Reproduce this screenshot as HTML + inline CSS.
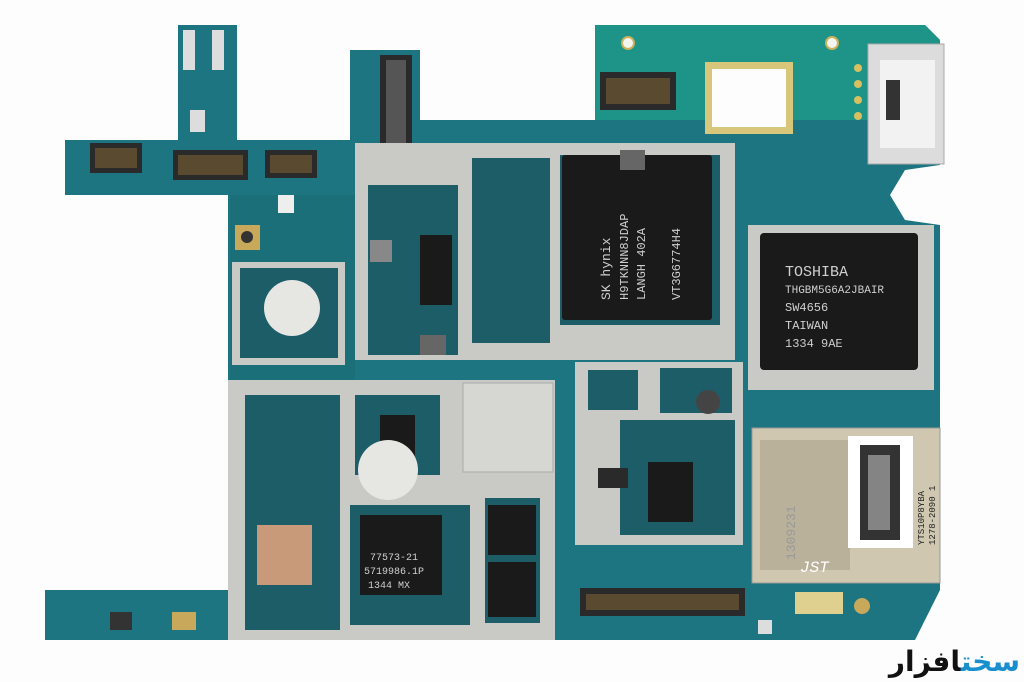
<!DOCTYPE html>
<html><head><meta charset="utf-8"><style>
html,body{margin:0;padding:0;background:#fff;width:1024px;height:682px;overflow:hidden;position:relative}
svg{display:block}
text{font-family:"Liberation Mono",monospace}
.logo{position:absolute;right:4px;top:644px;font:bold 28px "DejaVu Sans",sans-serif;line-height:36px;direction:rtl;white-space:nowrap}
</style></head><body>
<svg width="1024" height="682" viewBox="0 0 1024 682" xmlns="http://www.w3.org/2000/svg">
<rect width="1024" height="682" fill="#fdfdfd"/>
<polygon fill="#1c7580" points="178,25 237,25 237,140 350,140 350,50 420,50 420,120 595,120 595,25 925,25 940,40 940,165 905,170 890,195 905,220 940,225 940,590 915,640 45,640 45,590 228,590 228,195 65,195 65,140 178,140"/>
<polygon fill="#1e9488" points="595,25 925,25 940,40 940,120 595,120"/>
<rect x="230" y="195" width="125" height="390" fill="#1b6f78"/>
<circle cx="628" cy="43" r="6" fill="#f4f4f0" stroke="#c9b25a" stroke-width="2"/>
<circle cx="832" cy="43" r="6" fill="#f4f4f0" stroke="#c9b25a" stroke-width="2"/>
<rect x="705" y="62" width="88" height="72" fill="#d8c67a"/>
<rect x="712" y="69" width="74" height="58" fill="#fdfdfd"/>
<rect x="868" y="44" width="76" height="120" fill="#dcdcdc" stroke="#aaa"/>
<rect x="880" y="60" width="55" height="88" fill="#f2f2f2"/>
<rect x="886" y="80" width="14" height="40" fill="#333"/>
<circle cx="858" cy="68" r="4" fill="#d8c060"/><circle cx="858" cy="84" r="4" fill="#d8c060"/><circle cx="858" cy="100" r="4" fill="#d8c060"/><circle cx="858" cy="116" r="4" fill="#d8c060"/>
<rect x="380" y="55" width="32" height="105" fill="#2a2a2a"/><rect x="386" y="60" width="20" height="95" fill="#555"/>
<rect x="600" y="72" width="76" height="38" fill="#2a2a2a"/><rect x="606" y="78" width="64" height="26" fill="#5a4a30"/>
<rect x="90" y="143" width="52" height="30" fill="#2a2a2a"/><rect x="95" y="148" width="42" height="20" fill="#5a4a30"/>
<rect x="173" y="150" width="75" height="30" fill="#2a2a2a"/><rect x="178" y="155" width="65" height="20" fill="#5a4a30"/>
<rect x="265" y="150" width="52" height="28" fill="#2a2a2a"/><rect x="270" y="155" width="42" height="18" fill="#5a4a30"/>
<rect x="580" y="588" width="165" height="28" fill="#2a2a2a"/><rect x="586" y="594" width="153" height="16" fill="#5a4a30"/>
<rect x="183" y="30" width="12" height="40" fill="#ddd"/><rect x="212" y="30" width="12" height="40" fill="#ddd"/>
<rect x="190" y="110" width="15" height="22" fill="#ddd"/>
<rect x="235" y="225" width="25" height="25" fill="#c8a85a"/><circle cx="247" cy="237" r="6" fill="#333"/>
<rect x="278" y="195" width="16" height="18" fill="#eee"/>
<polygon fill="#c9c9c6" points="355,143 735,143 735,360 355,360"/>
<rect x="368" y="185" width="90" height="170" fill="#1c5d68"/>
<rect x="472" y="158" width="78" height="185" fill="#1c5d68"/>
<polygon fill="#1c5d68" points="560,155 720,155 720,325 560,325"/>
<rect x="562" y="155" width="150" height="165" fill="#1a1a1a" rx="3"/>
<rect x="420" y="235" width="32" height="70" fill="#1a1a1a"/>
<rect x="370" y="240" width="22" height="22" fill="#888"/>
<rect x="420" y="335" width="26" height="20" fill="#666"/>
<rect x="620" y="150" width="25" height="20" fill="#666"/>
<text transform="translate(610,300) rotate(-90)" font-size="13" fill="#cfcfcf">SK hynix</text>
<text transform="translate(628,300) rotate(-90)" font-size="12" fill="#cfcfcf">H9TKNNN8JDAP</text>
<text transform="translate(645,300) rotate(-90)" font-size="12" fill="#cfcfcf">LANGH  402A</text>
<text transform="translate(680,300) rotate(-90)" font-size="12" fill="#cfcfcf">VT3G6774H4</text>
<rect x="232" y="262" width="113" height="103" fill="#c9c9c6"/>
<rect x="240" y="268" width="98" height="90" fill="#1c5d68"/>
<circle cx="292" cy="308" r="28" fill="#e6e6e2"/>
<rect x="748" y="225" width="186" height="165" fill="#c9c9c6"/>
<rect x="760" y="233" width="158" height="137" fill="#1a1a1a" rx="4"/>
<text x="785" y="276" font-size="15" fill="#cfcfcf" font-family="Liberation Sans">TOSHIBA</text>
<text x="785" y="293" font-size="11" fill="#cfcfcf">THGBM5G6A2JBAIR</text>
<text x="785" y="311" font-size="12" fill="#cfcfcf">SW4656</text>
<text x="785" y="329" font-size="12" fill="#cfcfcf">TAIWAN</text>
<text x="785" y="347" font-size="12" fill="#cfcfcf">1334 9AE</text>
<rect x="228" y="380" width="327" height="260" fill="#c9c9c6"/>
<rect x="245" y="395" width="95" height="235" fill="#1c5d68"/>
<rect x="257" y="525" width="55" height="60" fill="#c89a7a"/>
<rect x="355" y="395" width="85" height="80" fill="#1c5d68"/>
<rect x="380" y="415" width="35" height="45" fill="#1a1a1a"/>
<circle cx="388" cy="470" r="30" fill="#e6e6e2"/>
<rect x="350" y="505" width="120" height="120" fill="#1c5d68"/>
<rect x="485" y="498" width="55" height="125" fill="#1c5d68"/>
<rect x="360" y="515" width="82" height="80" fill="#1a1a1a"/>
<text x="370" y="560" font-size="10" fill="#cfcfcf">77573-21</text>
<text x="364" y="574" font-size="10" fill="#cfcfcf">5719986.1P</text>
<text x="368" y="588" font-size="10" fill="#cfcfcf">1344  MX</text>
<rect x="488" y="505" width="48" height="50" fill="#1a1a1a"/>
<rect x="488" y="562" width="48" height="55" fill="#1a1a1a"/>
<rect x="463" y="383" width="90" height="89" fill="#d6d6d2" stroke="#aaa"/>
<rect x="575" y="362" width="168" height="183" fill="#c9c9c6"/>
<rect x="620" y="420" width="115" height="115" fill="#1c5d68"/>
<rect x="588" y="370" width="50" height="40" fill="#1c5d68"/>
<rect x="660" y="368" width="72" height="45" fill="#1c5d68"/>
<circle cx="708" cy="402" r="12" fill="#444"/>
<rect x="648" y="462" width="45" height="60" fill="#1a1a1a"/>
<rect x="598" y="468" width="30" height="20" fill="#2a2a2a"/>
<rect x="752" y="428" width="188" height="155" fill="#cfc7b0" stroke="#999"/>
<rect x="760" y="440" width="90" height="130" fill="#b9b19a"/>
<rect x="848" y="436" width="65" height="112" fill="#fff"/>
<rect x="860" y="445" width="40" height="95" fill="#333"/>
<rect x="868" y="455" width="22" height="75" fill="#fff" opacity=".4"/>
<text transform="translate(795,560) rotate(-90)" font-size="13" fill="#999">1309231</text>
<text transform="translate(924,545) rotate(-90)" font-size="9" fill="#222" font-family="Liberation Sans">YTS10P8YBA</text>
<text transform="translate(935,545) rotate(-90)" font-size="9" fill="#222" font-family="Liberation Sans">1278-2090 1</text>
<text x="800" y="572" font-size="16" fill="#fff" font-family="Liberation Sans" font-style="italic">JST</text>
<rect x="795" y="592" width="48" height="22" fill="#e0d090"/>
<rect x="758" y="620" width="14" height="14" fill="#ddd"/>
<circle cx="862" cy="606" r="8" fill="#c8a85a"/>
<rect x="110" y="612" width="22" height="18" fill="#333"/>
<rect x="172" y="612" width="24" height="18" fill="#c8a85a"/>
</svg>
<div class="logo"><span style="color:#1a8fd0">سخت</span><span style="color:#111">افزار</span></div>
</body></html>
